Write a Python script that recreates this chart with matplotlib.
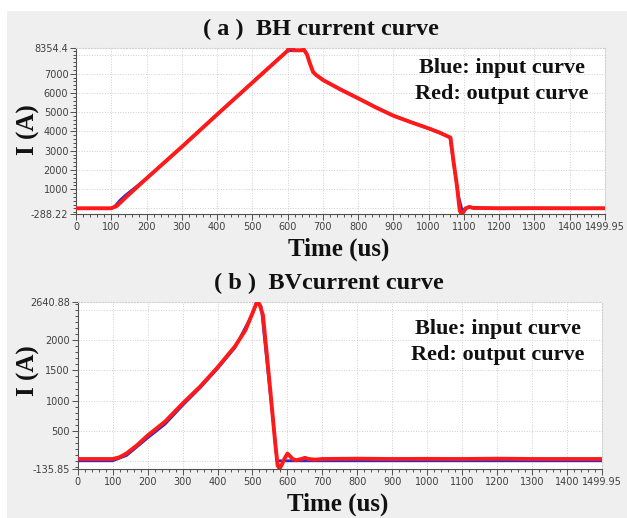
import matplotlib
matplotlib.use("Agg")
import matplotlib.pyplot as plt
import matplotlib.ticker as mtick
from matplotlib.patches import Rectangle

# ── data ──────────────────────────────────────────────────────────────
bh_red_t = [0, 100, 115, 130, 145, 200, 300, 400, 500, 600, 602, 603, 615, 616,
            640, 646, 655, 663, 672, 680, 700, 750, 800, 850, 900, 950, 1000,
            1030, 1062, 1070, 1080, 1088, 1092, 1098, 1105, 1115, 1125, 1200,
            1300, 1400, 1499.95]
bh_red_i = [10, 10, 120, 380, 640, 1560, 3200, 4880, 6540, 8200, 8200, 8354, 8354, 8220,
            8220, 8260, 8000, 7550, 7100, 6950, 6680, 6180, 5725, 5250, 4820, 4480, 4160,
            3950, 3680, 2500, 1200, -100, -250, -200, 0, 80, 30, 10,
            15, 10, 10]

bh_blue_t = [0, 100, 110, 125, 140, 200, 300, 400, 500, 600, 640, 646, 655, 663,
             672, 680, 700, 800, 900, 1000, 1060, 1072, 1085, 1095, 1105, 1117,
             1130, 1300, 1499.95]
bh_blue_i = [0, 0, 110, 430, 680, 1560, 3200, 4880, 6540, 8200, 8220, 8260, 8000, 7550,
             7100, 6950, 6680, 5725, 4820, 4160, 3700, 2200, 600, -100, 20, 90,
             10, 10, 10]

bv_red_t = [0, 100, 120, 140, 170, 200, 250, 300, 350, 400, 450, 480, 500, 513,
            520, 530, 550, 565, 572, 578, 585, 592, 600, 607, 615, 625, 640, 650,
            660, 680, 700, 800, 900, 1000, 1100, 1200, 1300, 1400, 1499.95]
bv_red_i = [30, 30, 60, 124, 260, 420, 650, 950, 1230, 1550, 1900, 2170, 2450, 2640,
            2600, 2420, 1230, 300, -80, -130, -50, 40, 120, 80, 30, 10, 30, 50,
            30, 20, 30, 35, 30, 32, 30, 35, 30, 30, 30]

bv_blue_t = [0, 100, 140, 200, 250, 300, 350, 400, 450, 500, 513, 525, 560, 570, 1499.95]
bv_blue_i = [0, 0, 90, 380, 610, 920, 1210, 1530, 1880, 2440, 2640, 2560, 600, 0, 0]

x_ticks = [0, 100, 200, 300, 400, 500, 600, 700, 800, 900, 1000, 1100, 1200, 1300, 1400, 1499.95]
x_labels = ["0", "100", "200", "300", "400", "500", "600", "700", "800", "900",
            "1000", "1100", "1200", "1300", "1400", "1499.95"]
bh_y_ticks = [-288.22, 1000, 2000, 3000, 4000, 5000, 6000, 7000, 8354.4]
bh_y_labels = ["-288.22", "1000", "2000", "3000", "4000", "5000", "6000", "7000", "8354.4"]
bh_y_grid = [0, 1000, 2000, 3000, 4000, 5000, 6000, 7000, 8000]
bv_y_ticks = [-135.85, 500, 1000, 1500, 2000, 2640.88]
bv_y_labels = ["-135.85", "500", "1000", "1500", "2000", "2640.88"]
bv_y_grid = [0, 500, 1000, 1500, 2000, 2500]

RED = "#ff1a1a"
BLUE = "#2a2ad0"
SERIF = "Liberation Serif"

fig = plt.figure(figsize=(6.27, 5.18), dpi=100, facecolor="white")
fig.patches.append(Rectangle((7 / 627, 0), 1, 1 - 11 / 518, transform=fig.transFigure,
                             facecolor="#efefef", edgecolor="none", zorder=-10))


def panel(rect, bt, bi, rt, ri, yticks, ylabels, ygrid, xminor, yminor):
    ax = fig.add_axes(rect)
    ax.set_facecolor("white")
    ax.plot(bt, bi, color=BLUE, lw=2.0, zorder=3)
    ax.plot(rt, ri, color=RED, lw=2.8, zorder=4)
    ax.set_xlim(0, 1499.95)
    ax.set_ylim(yticks[0], yticks[-1])
    ax.set_xticks(x_ticks)
    ax.set_xticklabels(x_labels)
    ax.set_yticks(yticks)
    ax.set_yticklabels(ylabels)
    ax.xaxis.set_minor_locator(mtick.MultipleLocator(xminor))
    ax.yaxis.set_minor_locator(mtick.MultipleLocator(yminor))
    ax.tick_params(which="both", labelsize=7, labelcolor="#404040", color="#505050",
                   direction="out", width=0.7, pad=1.5)
    ax.tick_params(which="major", length=4)
    ax.tick_params(which="minor", length=2.5)
    for x in x_ticks[:-1]:
        ax.axvline(x, color="#cfcfcf", lw=0.7, ls=":", zorder=1)
    for y in ygrid:
        ax.axhline(y, color="#cfcfcf", lw=0.7, ls=":", zorder=1)
    for s in ["left", "bottom"]:
        ax.spines[s].set_color("#505050")
        ax.spines[s].set_linewidth(0.8)
    for s in ["top", "right"]:
        ax.spines[s].set_color("#cfcfcf")
        ax.spines[s].set_linestyle(":")
        ax.spines[s].set_linewidth(0.8)
    return ax


panel([76 / 627, 1 - 214 / 518, 529 / 627, 166.3 / 518],
      bh_blue_t, bh_blue_i, bh_red_t, bh_red_i,
      bh_y_ticks, bh_y_labels, bh_y_grid, 20, 200)
panel([77.7 / 627, 1 - 469 / 518, 524.3 / 627, 167.3 / 518],
      bv_blue_t, bv_blue_i, bv_red_t, bv_red_i,
      bv_y_ticks, bv_y_labels, bv_y_grid, 20, 100)

# ── texts ─────────────────────────────────────────────────────────────
tkw = dict(family=SERIF, fontweight="bold", color="#111111", ha="center", va="center")
fig.text(321 / 627, 1 - 29 / 518, "( a )  BH current curve", fontsize=17.5, **tkw)
fig.text(329 / 627, 1 - 283 / 518, "( b )  BVcurrent curve", fontsize=17.5, **tkw)
fig.text(339 / 627, 1 - 249 / 518, "Time (us)", fontsize=18, **tkw)
fig.text(338 / 627, 1 - 504 / 518, "Time (us)", fontsize=18, **tkw)
fig.text(28 / 627, 1 - 130 / 518, "I (A)", fontsize=18, rotation=90, **tkw)
fig.text(28 / 627, 1 - 371 / 518, "I (A)", fontsize=18, rotation=90, **tkw)
fig.text(502 / 627, 1 - 81 / 518, "Blue: input curve\nRed: output curve",
         fontsize=16, linespacing=1.4, **tkw)
fig.text(498 / 627, 1 - 342 / 518, "Blue: input curve\nRed: output curve",
         fontsize=16, linespacing=1.4, **tkw)

fig.savefig("out.png", dpi=100, facecolor="white")
